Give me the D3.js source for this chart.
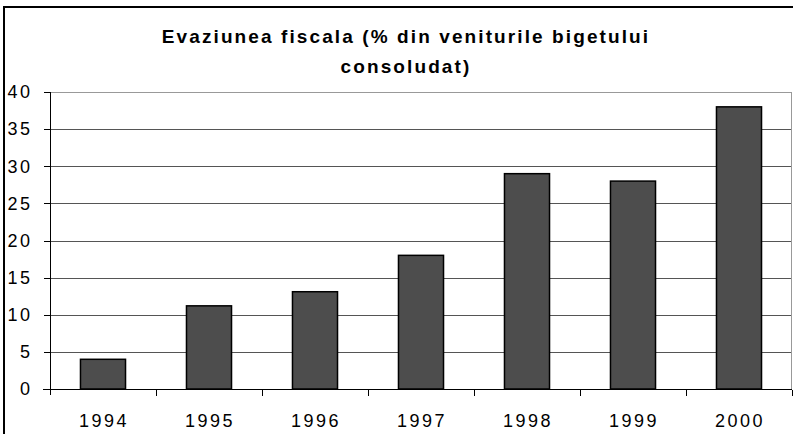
<!DOCTYPE html>
<html>
<head>
<meta charset="UTF-8">
<title>Evaziunea fiscala</title>
<style>
  body { margin: 0; background: #fff; }
  svg { display: block; }
  text { font-family: Arial, "Liberation Sans", sans-serif; fill: #000; }
  .title { font-size: 19px; font-weight: bold; letter-spacing: 2.1px; }
  .axis text { font-size: 18px; letter-spacing: 2.5px; }
  .axis path, .axis line { stroke: #000; shape-rendering: crispEdges; }
</style>
</head>
<body>
<script src="https://cdn.jsdelivr.net/npm/d3@7"></script>
<script>
// data
var years = ["1994", "1995", "1996", "1997", "1998", "1999", "2000"];
var values = [4, 11.2, 13.1, 18, 29, 28, 38];
var yTicks = [0, 5, 10, 15, 20, 25, 30, 35, 40];
var titleLines = ["Evaziunea fiscala (% din veniturile bigetului", "consoludat)"];

var W = 793, H = 434;
var plotLeft = 50, plotRight = 792, plotTop = 92, plotBottom = 389;

var svg = d3.select("body").append("svg")
  .attr("width", W)
  .attr("height", H);

// outer chart border (runs off the right and bottom edge like the picture)
svg.append("rect")
  .attr("x", 4).attr("y", 7)
  .attr("width", W + 10).attr("height", H + 10)
  .attr("fill", "none")
  .attr("stroke", "#000")
  .attr("stroke-width", 2);

svg.selectAll("text.title")
  .data(titleLines)
  .enter().append("text")
  .attr("class", "title")
  .attr("x", 406)
  .attr("y", function(d, i) { return 43 + i * 30; })
  .attr("text-anchor", "middle")
  .text(function(d) { return d; });

var x = d3.scaleBand()
  .domain(years)
  .range([plotLeft, plotRight])
  .paddingInner(0.575)
  .paddingOuter(0.2875);

var y = d3.scaleLinear()
  .domain([0, 40])
  .range([plotBottom, plotTop]);

// gridlines
svg.append("g").selectAll("line")
  .data(yTicks.filter(function(d) { return d > 0; }))
  .enter().append("line")
  .attr("x1", plotLeft).attr("x2", plotRight)
  .attr("y1", function(d) { return Math.round(y(d)) + 0.5; })
  .attr("y2", function(d) { return Math.round(y(d)) + 0.5; })
  .attr("stroke", function(d) { return d === 40 ? "#999" : "#555"; })
  .attr("stroke-width", 1);

// right border of plot area
svg.append("line")
  .attr("x1", plotRight - 0.5).attr("x2", plotRight - 0.5)
  .attr("y1", plotTop).attr("y2", plotBottom)
  .attr("stroke", "#999");

// bars
svg.append("g").selectAll("rect")
  .data(values)
  .enter().append("rect")
  .attr("x", function(d, i) { return x(years[i]); })
  .attr("y", function(d) { return y(d); })
  .attr("width", x.bandwidth())
  .attr("height", function(d) { return y(0) - y(d); })
  .attr("fill", "#4d4d4d")
  .attr("stroke", "#000")
  .attr("stroke-width", 1.5);

// y axis
var yAxis = d3.axisLeft(y)
  .tickValues(yTicks)
  .tickSize(7)
  .tickPadding(11)
  .tickSizeOuter(0);

svg.append("g")
  .attr("class", "axis")
  .attr("transform", "translate(" + (plotLeft + 0.5) + ",0)")
  .call(yAxis)
  .call(function(g) { g.select(".domain").attr("d", "M0," + plotTop + "V" + (plotBottom + 6)); });

// x axis with ticks between categories
var xAxis = svg.append("g")
  .attr("class", "axis")
  .attr("transform", "translate(0," + (plotBottom + 0.5) + ")");

xAxis.append("line")
  .attr("x1", plotLeft - 7).attr("x2", plotRight)
  .attr("y1", 0).attr("y2", 0);

xAxis.selectAll("line.sep")
  .data(years.slice(1).concat(["end"]))
  .enter().append("line")
  .attr("class", "sep")
  .attr("x1", function(d, i) { return Math.round(plotLeft + x.step() * (i + 1)) + 0.5; })
  .attr("x2", function(d, i) { return Math.round(plotLeft + x.step() * (i + 1)) + 0.5; })
  .attr("y1", 0).attr("y2", 6);

xAxis.selectAll("text")
  .data(years)
  .enter().append("text")
  .attr("x", function(d) { return x(d) + x.bandwidth() / 2 + 1; })
  .attr("y", 37)
  .attr("text-anchor", "middle")
  .text(function(d) { return d; });
</script>
</body>
</html>
